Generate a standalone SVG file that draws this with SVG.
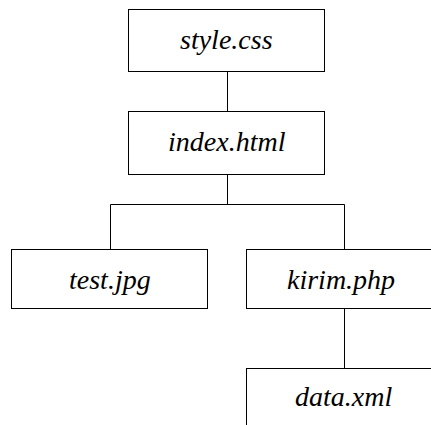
<svg xmlns="http://www.w3.org/2000/svg" width="431" height="425" viewBox="0 0 431 425">
  <style>
    .box { fill: #ffffff; stroke: #000000; stroke-width: 1; }
    .fname { font-family: 'Liberation Serif', serif; font-style: italic; font-size: 28px; }
    .edge { fill: none; stroke: #000000; stroke-width: 1; }
  </style>
  <rect width="431" height="425" fill="#ffffff"/>
  <g id="connectors">
    <path class="edge" d="M227.5 71.5 V111.5"/>
    <path class="edge" d="M227.5 174.5 V204.5 M110.5 204.5 H344.5 M110.5 204.5 V249.5 M344.5 204.5 V249.5"/>
    <path class="edge" d="M344.5 308.5 V368.5"/>
  </g>
  <g id="style-css">
    <rect class="box" x="128.5" y="9.5" width="196" height="62"/>
    <text class="fname" x="180" y="49" font-family="Liberation Serif">style.css</text>
  </g>
  <g id="index-html">
    <rect class="box" x="128.5" y="111.5" width="196" height="63"/>
    <text class="fname" x="168" y="151" font-family="Liberation Serif">index.html</text>
  </g>
  <g id="test-jpg">
    <rect class="box" x="11.5" y="249.5" width="196" height="59"/>
    <text class="fname" x="69" y="289" font-family="Liberation Serif">test.jpg</text>
  </g>
  <g id="kirim-php">
    <rect class="box" x="246.5" y="249.5" width="196" height="59"/>
    <text class="fname" x="287" y="289" font-family="Liberation Serif">kirim.php</text>
  </g>
  <g id="data-xml">
    <rect class="box" x="246.5" y="368.5" width="196" height="62"/>
    <text class="fname" x="295" y="406" font-family="Liberation Serif">data.xml</text>
  </g>
</svg>
